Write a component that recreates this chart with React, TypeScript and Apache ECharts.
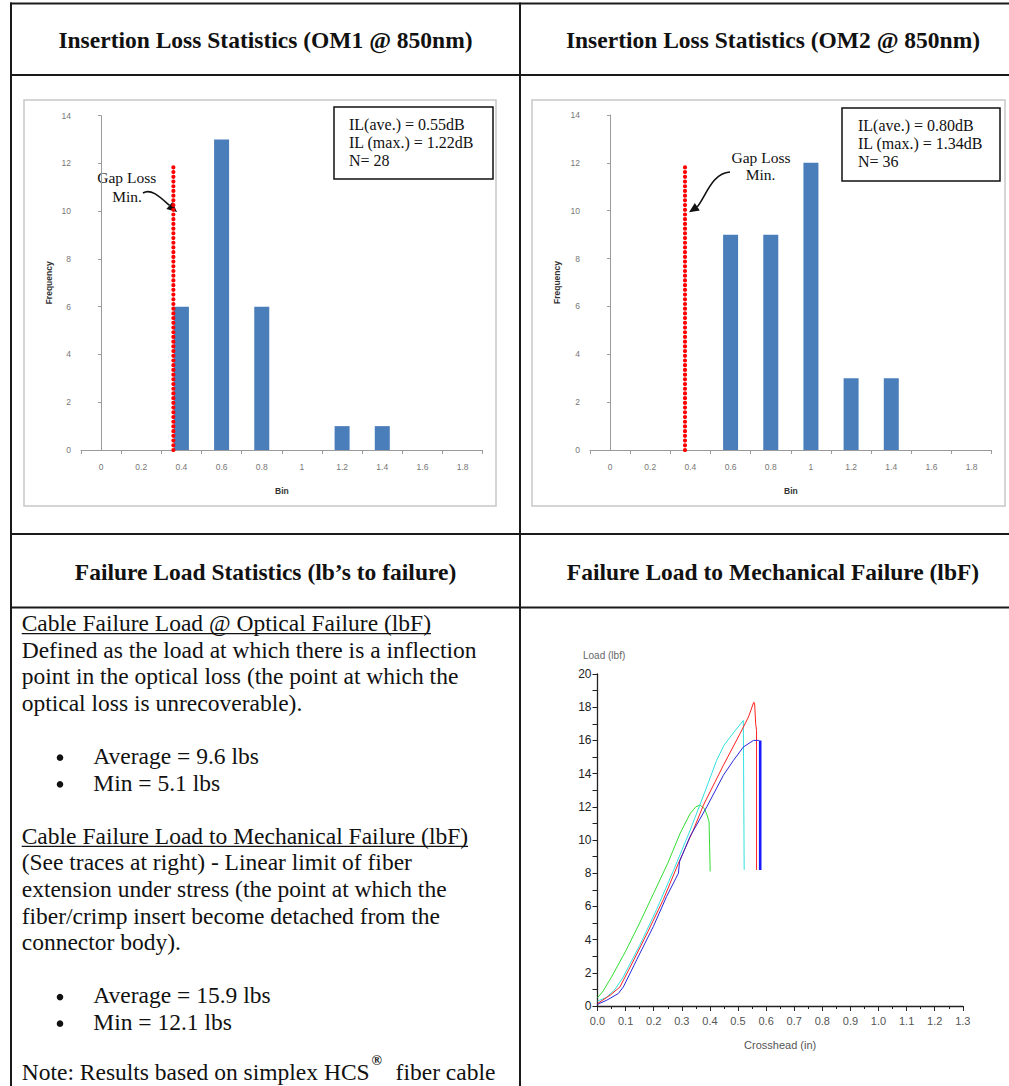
import React, { useEffect, useRef } from "react";
import * as echarts from "echarts";

// ---- Insertion loss histograms ----
const binLabels = ["0", "0.2", "0.4", "0.6", "0.8", "1", "1.2", "1.4", "1.6", "1.8"];
const om1Counts = [0, 0, 6, 13, 6, 0, 1, 1, 0, 0];
const om2Counts = [0, 0, 0, 9, 9, 12, 3, 3, 0, 0];
const gapLossOM1 = 0.36;
const gapLossOM2 = 0.373;
const gapLossTop = 12;
const om1Stats = ["IL(ave.) = 0.55dB", "IL (max.) = 1.22dB", "N= 28"];
const om2Stats = ["IL(ave.) = 0.80dB", "IL (max.) = 1.34dB", "N= 36"];

// ---- Load vs crosshead traces [in, lbf] ----
const traceGreen = [
  [0, 0.5], [0.02, 0.9], [0.05, 1.75], [0.1, 3.3], [0.15, 5.0], [0.2, 6.8], [0.25, 8.6],
  [0.294, 10.4], [0.33, 11.6], [0.35, 12.0], [0.365, 12.1], [0.38, 11.9], [0.39, 11.5],
  [0.397, 11.1], [0.399, 9.6], [0.401, 8.1],
];
const traceCyan = [
  [0, 0.3], [0.03, 0.5], [0.06, 0.95], [0.09, 1.7], [0.15, 3.65], [0.21, 5.8], [0.27, 8.15],
  [0.33, 10.6], [0.38, 12.8], [0.424, 14.8], [0.45, 15.7], [0.472, 16.2], [0.5, 16.8],
  [0.519, 17.2], [0.521, 17.2], [0.522, 8.2],
];
const traceRed = [
  [0, 0.15], [0.045, 0.65], [0.08, 1.15], [0.13, 2.8], [0.18, 4.5], [0.234, 6.4], [0.288, 8.6],
  [0.341, 10.6], [0.377, 12.1], [0.448, 14.5], [0.507, 16.4], [0.537, 17.4], [0.556, 18.3],
  [0.559, 18.25], [0.563, 17.0], [0.566, 16.6], [0.566, 8.2],
];
const traceBlue = [
  [0, 0.1], [0.033, 0.35], [0.074, 0.75], [0.092, 1.15], [0.14, 2.8], [0.199, 4.8], [0.246, 6.6],
  [0.288, 8.0], [0.292, 8.7], [0.329, 10.2], [0.389, 12.0], [0.448, 13.9], [0.484, 14.8],
  [0.519, 15.6], [0.555, 16.0], [0.573, 16.0], [0.579, 15.9],
];
const traceBlueDrop = [[0.579, 16.0], [0.579, 8.2]];

// ---- Document text ----
const headerTopLeft = "Insertion Loss Statistics (OM1 @ 850nm)";
const headerTopRight = "Insertion Loss Statistics (OM2 @ 850nm)";
const headerMidLeft = "Failure Load Statistics (lb\u2019s to failure)";
const headerMidRight = "Failure Load to Mechanical Failure (lbF)";
const opticalHeading = "Cable Failure Load @ Optical Failure (lbF)";
const opticalBody = [
  "Defined as the load at which there is a inflection",
  "point in the optical loss (the point at which the",
  "optical loss is unrecoverable).",
];
const opticalBullets = ["Average = 9.6 lbs", "Min = 5.1 lbs"];
const mechHeading = "Cable Failure Load to Mechanical Failure (lbF)";
const mechBody = [
  "(See traces at right) - Linear limit of fiber",
  "extension under stress (the point at which the",
  "fiber/crimp insert become detached from the",
  "connector body).",
];
const mechBullets = ["Average = 15.9 lbs", "Min = 12.1 lbs"];
const noteStart = "Note: Results based on simplex HCS";
const noteMark = "\u00AE";
const noteEnd = "fiber cable";

const SERIF = '"Liberation Serif", "Times New Roman", serif';
const SANS = '"Liberation Sans", Arial, sans-serif';
const BODY_SIZE = 23.5;
const BODY_FONT = `${BODY_SIZE}px ${SERIF}`;
const HEAD_FONT = `bold ${BODY_SIZE}px ${SERIF}`;
const INK = "#111";

function measure(text: string, font: string): number {
  const c = document.createElement("canvas").getContext("2d");
  if (!c) return text.length * 10;
  c.font = font;
  return c.measureText(text).width;
}

// y centre for text whose alphabetic baseline sits at `baseline`
const mid = (baseline: number, size: number) => baseline - 0.3375 * size;

function txt(text: string, x: number, y: number, font: string, align = "left", fill = INK) {
  return {
    type: "text",
    x,
    y,
    silent: true,
    style: { text, font, fill, align, verticalAlign: "middle" },
  };
}

function hline(x1: number, x2: number, y: number, w = 2, color = "#1a1a1a") {
  return { type: "line", silent: true, shape: { x1, y1: y, x2, y2: y }, style: { stroke: color, lineWidth: w } };
}
function vline(x: number, y1: number, y2: number, w = 2, color = "#1a1a1a") {
  return { type: "line", silent: true, shape: { x1: x, y1, x2: x, y2 }, style: { stroke: color, lineWidth: w } };
}

function histAxes(gridIndex: number) {
  const grey = "#9a9a9a";
  const x = {
    type: "category",
    gridIndex,
    data: binLabels,
    boundaryGap: true,
    axisLine: { lineStyle: { color: grey, width: 1 } },
    axisTick: { show: true, length: 4, lineStyle: { color: grey } },
    axisLabel: { color: "#777", fontSize: 8.5, fontFamily: SANS, margin: 12 },
    name: "Bin",
    nameLocation: "middle",
    nameGap: 36,
    nameTextStyle: { fontWeight: "bold", fontSize: 8.5, color: "#333", fontFamily: SANS },
  };
  const xv = { type: "value", gridIndex, min: -0.1, max: 1.9, show: false };
  const y = {
    type: "value",
    gridIndex,
    min: 0,
    max: 14,
    interval: 2,
    axisLine: { show: true, lineStyle: { color: grey } },
    axisTick: { show: true, length: 3, lineStyle: { color: grey } },
    splitLine: { show: false },
    axisLabel: { color: "#777", fontSize: 8.5, fontFamily: SANS, margin: 10 },
    name: "Frequency",
    nameLocation: "middle",
    nameRotate: 90,
    nameGap: gridIndex === 0 ? 28 : 29,
    nameTextStyle: { fontWeight: "bold", fontSize: 8.5, color: "#333", fontFamily: SANS },
  };
  return { x, xv, y };
}

function gapLine(xAxisIndex: number, yAxisIndex: number, at: number) {
  return {
    type: "line",
    xAxisIndex,
    yAxisIndex,
    data: [[at, 0], [at, gapLossTop]],
    symbol: "none",
    silent: true,
    z: 5,
    lineStyle: { color: "#ff0000", width: 4.2, type: [0.01, 4.7], cap: "round" },
  };
}

function trace(data: number[][], color: string, width = 1) {
  return {
    type: "line",
    xAxisIndex: 4,
    yAxisIndex: 2,
    data,
    symbol: "none",
    silent: true,
    lineStyle: { color, width },
  };
}

function statsBox(x: number, y: number, w: number, h: number, lines: string[], tx: number, ty: number[]) {
  const out: any[] = [
    { type: "rect", silent: true, shape: { x, y, width: w, height: h }, style: { fill: "#fff", stroke: "#111", lineWidth: 1.5 } },
  ];
  lines.forEach((l, i) => out.push(txt(l, tx, ty[i], `16px ${SERIF}`)));
  return out;
}

function buildGraphics() {
  const g: any[] = [];
  // table rules
  const right = 1012;
  g.push(hline(10, right, 3.5));
  g.push(hline(10, right, 75));
  g.push(hline(10, right, 534));
  g.push(hline(10, right, 607.5));
  g.push(vline(11, 2.5, 1090));
  g.push(vline(520, 2.5, 1090));

  // header cells
  g.push(txt(headerTopLeft, 265.5, mid(47.7, BODY_SIZE), HEAD_FONT, "center"));
  g.push(txt(headerTopRight, 773, mid(47.7, BODY_SIZE), HEAD_FONT, "center"));
  g.push(txt(headerMidLeft, 265.5, mid(580, BODY_SIZE), HEAD_FONT, "center"));
  g.push(txt(headerMidRight, 773, mid(580, BODY_SIZE), HEAD_FONT, "center"));

  // chart frames
  g.push({ type: "rect", silent: true, shape: { x: 24, y: 100, width: 472, height: 406 }, style: { fill: "none", stroke: "#c8c8c8", lineWidth: 1.5 } });
  g.push({ type: "rect", silent: true, shape: { x: 532, y: 100, width: 473, height: 406 }, style: { fill: "none", stroke: "#c8c8c8", lineWidth: 1.5 } });

  // statistics boxes
  g.push(...statsBox(334, 107, 159, 72, om1Stats, 349, [124.3, 142, 160]));
  g.push(...statsBox(842, 108, 158, 73, om2Stats, 858, [125.7, 143.5, 161.5]));

  // Gap loss callouts
  const calloutFont = `15.5px ${SERIF}`;
  g.push(txt("Gap Loss", 126.7, 177.3, calloutFont, "center"));
  g.push(txt("Min.", 127, 196.3, calloutFont, "center"));
  g.push({
    type: "bezierCurve", silent: true,
    shape: { x1: 143, y1: 193, cpx1: 151, cpy1: 188, cpx2: 160, cpy2: 197, x2: 169.5, y2: 205.4 },
    style: { stroke: "#111", lineWidth: 1.6, fill: null },
  });
  g.push({ type: "polygon", silent: true, shape: { points: [[177, 212], [166.4, 208.9], [172.4, 201.9]] }, style: { fill: "#111" } });

  g.push(txt("Gap Loss", 761, 157, calloutFont, "center"));
  g.push(txt("Min.", 760.5, 174.7, calloutFont, "center"));
  g.push({
    type: "bezierCurve", silent: true,
    shape: { x1: 730, y1: 172, cpx1: 712, cpy1: 173, cpx2: 706, cpy2: 196, x2: 697.3, y2: 206.8 },
    style: { stroke: "#111", lineWidth: 1.6, fill: null },
  });
  g.push({ type: "polygon", silent: true, shape: { points: [[689, 212.3], [694.8, 203], [699.8, 210.5]] }, style: { fill: "#111" } });

  // Load chart y-axis title
  g.push(txt("Load (lbf)", 583, 655, `10px ${SANS}`, "left", "#666"));

  // left text column
  const x0 = 21.7;
  const base = (n: number) => 631 + n * 26.6;
  const line = (n: number) => mid(base(n), BODY_SIZE);
  const under = (n: number, text: string) => {
    const w = measure(text, BODY_FONT);
    g.push(hline(x0, x0 + w, base(n) + 2.6, 1.3, INK));
  };
  g.push(txt(opticalHeading, x0, line(0), BODY_FONT));
  under(0, opticalHeading);
  opticalBody.forEach((t, i) => g.push(txt(t, x0, line(1 + i), BODY_FONT)));
  const bullet = (n: number, t: string) => {
    g.push({ type: "circle", silent: true, shape: { cx: 60, cy: base(n) - 6.3, r: 3.3 }, style: { fill: INK } });
    g.push(txt(t, 93.3, line(n), BODY_FONT));
  };
  opticalBullets.forEach((t, i) => bullet(5 + i, t));
  g.push(txt(mechHeading, x0, line(8), BODY_FONT));
  under(8, mechHeading);
  mechBody.forEach((t, i) => g.push(txt(t, x0, line(9 + i), BODY_FONT)));
  mechBullets.forEach((t, i) => bullet(14 + i, t));
  // last line sits at the page foot; nudged up so it stays on the page
  const noteY = line(17) - 3.5;
  const noteW = measure(noteStart, BODY_FONT);
  g.push(txt(noteStart, x0, noteY, BODY_FONT));
  g.push(txt(noteMark, x0 + noteW + 2, noteY - 11, `bold 14px ${SERIF}`));
  g.push(txt(noteEnd, x0 + noteW + 26, noteY, BODY_FONT));
  return g;
}

function buildOption() {
  const h1 = histAxes(0);
  const h2 = histAxes(1);
  const axisDark = "#222";
  return {
    animation: false,
    backgroundColor: "#fff",
    grid: [
      { left: 81, top: 115.7, width: 401.7, height: 334.3 },
      { left: 590, top: 115, width: 401.7, height: 335 },
      { left: 597.5, top: 674, width: 365.3, height: 332 },
    ],
    xAxis: [
      h1.x, h1.xv, h2.x, h2.xv,
      {
        type: "value", gridIndex: 2, min: 0, max: 1.3, interval: 0.1,
        axisLine: { show: true, lineStyle: { color: axisDark, width: 1.3 } },
        axisTick: { show: true, length: 5, lineStyle: { color: axisDark } },
        minorTick: { show: true, splitNumber: 2, length: 3, lineStyle: { color: axisDark } },
        splitLine: { show: false },
        axisLabel: { color: "#555", fontSize: 11, fontFamily: SANS, margin: 9, formatter: (v: number) => v.toFixed(1) },
        name: "Crosshead (in)", nameLocation: "middle", nameGap: 33,
        nameTextStyle: { color: "#555", fontSize: 11, fontFamily: SANS },
      },
    ],
    yAxis: [
      h1.y, h2.y,
      {
        type: "value", gridIndex: 2, min: 0, max: 20, interval: 2,
        axisLine: { show: true, lineStyle: { color: axisDark, width: 1.3 } },
        axisTick: { show: true, length: 5, lineStyle: { color: axisDark } },
        minorTick: { show: true, splitNumber: 2, length: 5, lineStyle: { color: axisDark } },
        splitLine: { show: false },
        axisLabel: { color: "#222", fontSize: 12, fontFamily: SANS, margin: 6 },
      },
    ],
    series: [
      { type: "bar", xAxisIndex: 0, yAxisIndex: 0, data: om1Counts, barWidth: 15, silent: true, itemStyle: { color: "#4a7ebb" } },
      { type: "bar", xAxisIndex: 2, yAxisIndex: 1, data: om2Counts, barWidth: 15, silent: true, itemStyle: { color: "#4a7ebb" } },
      gapLine(1, 0, gapLossOM1),
      gapLine(3, 1, gapLossOM2),
      trace(traceGreen, "#33dd33"),
      trace(traceCyan, "#33e0e0"),
      trace(traceRed, "#ff2020"),
      trace(traceBlue, "#2828d8"),
      trace(traceBlueDrop, "#1a1aff", 2.6),
    ],
    graphic: buildGraphics(),
  };
}

export default function App() {
  const ref = useRef<HTMLDivElement>(null);
  useEffect(() => {
    const el = ref.current;
    if (!el) return;
    const chart = echarts.init(el, null, { renderer: "svg" });
    chart.setOption(buildOption() as any);
    return () => chart.dispose();
  }, []);
  return (
    <div
      ref={ref}
      style={{ position: "absolute", left: 0, top: 0, width: 1009, height: 1086, background: "#fff" }}
    />
  );
}
